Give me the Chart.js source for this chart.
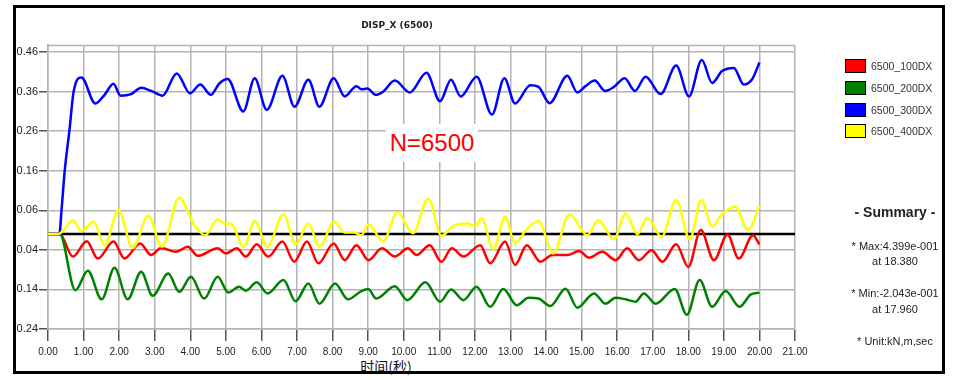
<!DOCTYPE html>
<html>
<head>
<meta charset="utf-8">
<script src="https://cdn.jsdelivr.net/npm/chart.js@4"></script>
<style>
  html, body { margin: 0; padding: 0; background: #fff; }
  #wrap { position: relative; width: 957px; height: 380px; overflow: hidden; font-family: "Liberation Sans", Arial, sans-serif; }
  #chart { position: absolute; left: 0; top: 0; }
  .abs { position: absolute; white-space: nowrap; }
  #frame { position: absolute; left: 13px; top: 5px; width: 926px; height: 363px; border: 3px solid #000; pointer-events: none; }
  #title { left: 297px; width: 200px; top: 20px; text-align: center; font: bold 9px "DejaVu Sans", sans-serif; color: #222; }
  #nlabel { left: 386px; top: 124px; width: 92px; height: 38px; background: #fff; color: #ff0000; font: 24px "Liberation Sans", Arial, sans-serif; line-height: 38px; text-align: center; }
  #xtitle { left: 356px; top: 356px; width: 60px; background: #fff; font: 14px "Noto Sans CJK SC", sans-serif; line-height: 20px; text-align: center; color: #111; }
  .leg { left: 845px; font: 10.5px "Liberation Sans", Arial, sans-serif; color: #333; line-height: 15px; }
  .leg span { display: inline-block; width: 19px; height: 12px; border: 1.5px solid #000; vertical-align: top; margin-right: 5px; }
  .sum { left: 840px; width: 110px; text-align: center; font: 11px "Liberation Sans", Arial, sans-serif; color: #222; }
</style>
</head>
<body>
<div id="wrap">
  <canvas id="chart" width="957" height="380"></canvas>
  <div id="title" class="abs">DISP_X (6500)</div>
  <div id="nlabel" class="abs">N=6500</div>
  <div id="xtitle" class="abs">时间(秒)</div>
  <div id="legend"></div>
  <div class="abs sum" style="top:204px;font:bold 14px 'Liberation Sans',Arial,sans-serif;">- Summary -</div>
  <div class="abs sum" style="top:240px;">* Max:4.399e-001</div>
  <div class="abs sum" style="top:255px;">at 18.380</div>
  <div class="abs sum" style="top:287px;">* Min:-2.043e-001</div>
  <div class="abs sum" style="top:303px;">at 17.960</div>
  <div class="abs sum" style="top:335px;">* Unit:kN,m,sec</div>
  <div id="frame"></div>
</div>
<script>
// series names + colours
const seriesNames = ['6500_100DX', '6500_200DX', '6500_300DX', '6500_400DX'];
const seriesColors = ['#ff0000', '#008000', '#0000ff', '#ffff00'];

// values (time in sec, displacement)
const tRed = [0, 0.33, 0.7, 1.09, 1.4, 1.84, 2.15, 2.59, 2.9, 3.18, 3.6, 3.93, 4.21, 4.77, 5.0, 5.31, 5.56, 5.87, 6.19, 6.59, 6.92, 7.28, 7.6, 8.03, 8.34, 8.67, 9.01, 9.39, 9.75, 10.12, 10.36, 10.73, 11.06, 11.35, 11.68, 12.15, 12.43, 12.85, 13.13, 13.46, 13.84, 14.18, 14.6, 14.93, 15.21, 15.58, 15.96, 16.28, 16.61, 16.97, 17.27, 17.66, 18.0, 18.35, 18.72, 19.1, 19.42, 19.82, 20.0];
const vRed = [0, 0, -0.057, -0.018, -0.062, -0.019, -0.062, -0.024, -0.053, -0.035, -0.045, -0.032, -0.055, -0.036, -0.049, -0.036, -0.057, -0.026, -0.057, -0.019, -0.07, -0.019, -0.074, -0.024, -0.066, -0.028, -0.066, -0.036, -0.057, -0.036, -0.053, -0.028, -0.07, -0.036, -0.057, -0.028, -0.074, -0.019, -0.078, -0.028, -0.07, -0.053, -0.053, -0.043, -0.06, -0.045, -0.066, -0.036, -0.066, -0.041, -0.07, -0.026, -0.083, 0.01, -0.066, -0.001, -0.062, -0.003, -0.026];

const tGreen = [0, 0.33, 0.77, 1.12, 1.51, 1.87, 2.24, 2.62, 2.94, 3.38, 3.69, 4.02, 4.39, 4.77, 5.07, 5.37, 5.56, 5.87, 6.17, 6.62, 6.96, 7.32, 7.63, 8.07, 8.43, 8.81, 9.0, 9.23, 9.75, 10.1, 10.61, 11.02, 11.33, 11.68, 12.05, 12.43, 12.8, 13.18, 13.51, 13.79, 14.12, 14.55, 14.88, 15.35, 15.67, 15.96, 16.24, 16.52, 16.75, 17.08, 17.62, 17.96, 18.32, 18.67, 19.05, 19.44, 19.75, 20.0];
const vGreen = [0, 0, -0.142, -0.093, -0.165, -0.085, -0.165, -0.095, -0.156, -0.1, -0.146, -0.108, -0.163, -0.108, -0.148, -0.133, -0.143, -0.122, -0.15, -0.116, -0.17, -0.125, -0.176, -0.125, -0.165, -0.144, -0.139, -0.163, -0.132, -0.167, -0.122, -0.171, -0.14, -0.167, -0.133, -0.184, -0.139, -0.18, -0.161, -0.163, -0.182, -0.138, -0.186, -0.15, -0.176, -0.161, -0.165, -0.171, -0.15, -0.176, -0.139, -0.204, -0.116, -0.184, -0.144, -0.184, -0.153, -0.148];

const tBlue = [0, 0.32, 0.38, 0.47, 0.6, 0.72, 0.94, 1.33, 1.59, 1.84, 2.04, 2.34, 2.62, 2.9, 3.22, 3.62, 3.99, 4.28, 4.58, 4.81, 5.05, 5.49, 5.81, 6.15, 6.59, 6.93, 7.32, 7.63, 8.03, 8.34, 8.67, 8.81, 8.98, 9.21, 9.42, 9.75, 10.17, 10.64, 11.02, 11.33, 11.6, 12.05, 12.48, 12.83, 13.13, 13.56, 13.79, 14.1, 14.6, 14.88, 15.11, 15.37, 15.66, 15.91, 16.21, 16.5, 16.8, 17.22, 17.66, 18.02, 18.38, 18.67, 18.95, 19.28, 19.56, 19.8, 20.0];
const vBlue = [0, 0, 0.06, 0.16, 0.26, 0.36, 0.396, 0.33, 0.352, 0.38, 0.35, 0.354, 0.37, 0.362, 0.35, 0.406, 0.356, 0.378, 0.352, 0.38, 0.392, 0.31, 0.394, 0.314, 0.40, 0.322, 0.39, 0.322, 0.394, 0.348, 0.374, 0.366, 0.368, 0.352, 0.36, 0.388, 0.358, 0.408, 0.336, 0.39, 0.348, 0.398, 0.302, 0.394, 0.33, 0.376, 0.372, 0.331, 0.40, 0.358, 0.374, 0.388, 0.362, 0.372, 0.394, 0.362, 0.398, 0.354, 0.426, 0.348, 0.44, 0.382, 0.412, 0.42, 0.378, 0.392, 0.434];

const tYellow = [0, 0.3, 0.42, 0.7, 0.95, 1.28, 1.59, 1.98, 2.38, 2.82, 3.2, 3.69, 4.11, 4.42, 4.77, 5.0, 5.14, 5.5, 5.81, 6.17, 6.62, 6.96, 7.32, 7.63, 8.05, 8.34, 8.6, 8.81, 9.01, 9.42, 9.82, 10.26, 10.69, 11.06, 11.44, 11.82, 12.0, 12.19, 12.52, 12.85, 13.13, 13.42, 13.79, 14.2, 14.66, 15.16, 15.47, 15.91, 16.24, 16.57, 16.85, 17.25, 17.66, 18.04, 18.37, 18.67, 18.95, 19.31, 19.69, 20.0];
const vYellow = [0, 0, 0.008, 0.034, 0.008, 0.031, -0.028, 0.061, -0.035, 0.046, -0.032, 0.092, 0.023, -0.003, 0.037, 0.025, 0.027, -0.032, 0.033, -0.032, 0.051, -0.026, 0.027, -0.032, 0.031, 0.004, 0.004, -0.003, 0.025, -0.019, 0.055, 0.002, 0.09, -0.004, 0.023, 0.027, 0.019, 0.04, -0.038, 0.044, -0.024, 0.008, 0.033, -0.049, 0.05, -0.003, 0.035, -0.013, 0.052, 0, 0.041, -0.007, 0.086, -0.013, 0.086, 0.019, 0.05, 0.069, 0.01, 0.072];

// baseline across the whole axis
const tZero = [0, 21];
const vZero = [0, 0];

// axis ticks
const yTicks = [-0.24, -0.14, -0.04, 0.06, 0.16, 0.26, 0.36, 0.46];
const xMin = 0, xMax = 21;
const yMin = -0.24, yMax = 0.478;

const pts = (t, v) => t.map((x, i) => ({ x: x, y: v[i] }));
const allT = [tRed, tGreen, tBlue, tYellow];
const allV = [vRed, vGreen, vBlue, vYellow];

// legend boxes
const legendTops = [59, 81, 103, 124];
document.getElementById('legend').innerHTML = seriesNames.map((n, i) =>
    `<div class="abs leg" style="top:${legendTops[i]}px"><span style="background:${seriesColors[i]}"></span>${n}</div>`
).join('');

const datasets = seriesNames.map((name, i) => ({
    label: name,
    data: pts(allT[i], allV[i]),
    borderColor: seriesColors[i],
    borderWidth: 2.5,
    pointRadius: 0,
    cubicInterpolationMode: 'monotone',
    order: 4 - i
}));
datasets.push({
    label: 'zero',
    data: pts(tZero, vZero),
    borderColor: '#000',
    borderWidth: 2.5,
    pointRadius: 0,
    order: 10
});

// top border of the plot area
const topEdge = {
    id: 'topEdge',
    afterDraw(chart) {
        const { ctx, chartArea } = chart;
        ctx.save();
        ctx.strokeStyle = '#b4b4b4';
        ctx.lineWidth = 1.5;
        ctx.beginPath();
        ctx.moveTo(chartArea.left, chartArea.top + 0.5);
        ctx.lineTo(chartArea.right, chartArea.top + 0.5);
        ctx.stroke();
        ctx.restore();
    }
};

new Chart(document.getElementById('chart'), {
    type: 'line',
    data: { datasets: datasets },
    plugins: [topEdge],
    options: {
        responsive: false,
        animation: false,
        devicePixelRatio: 1,
        layout: { padding: { left: 14, right: 162, top: 45, bottom: 21 } },
        plugins: {
            legend: { display: false },
            tooltip: { enabled: false }
        },
        scales: {
            x: {
                type: 'linear',
                min: xMin,
                max: xMax,
                afterFit: s => { s.height = 30; },
                ticks: {
                    stepSize: 1,
                    maxRotation: 0,
                    autoSkip: false,
                    padding: 5,
                    color: '#222',
                    font: { family: 'Liberation Sans', size: 10 },
                    callback: v => Number(v).toFixed(2)
                },
                grid: { color: '#b4b4b4', lineWidth: 1.5, tickLength: 12, tickColor: '#555', tickWidth: 1.5 },
                border: { color: '#b4b4b4', width: 1.5 }
            },
            y: {
                min: yMin,
                max: yMax,
                afterFit: s => { s.width = 34; },
                afterBuildTicks: s => { s.ticks = yTicks.map(v => ({ value: v })); },
                ticks: {
                    padding: 1,
                    color: '#222',
                    font: { family: 'Liberation Sans', size: 11 },
                    callback: v => Math.abs(v).toFixed(2)
                },
                grid: { color: '#b4b4b4', lineWidth: 1.5, tickLength: 9, tickColor: '#555', tickWidth: 1.5 },
                border: { color: '#b4b4b4', width: 1.5 }
            }
        }
    }
});
</script>
</body>
</html>
